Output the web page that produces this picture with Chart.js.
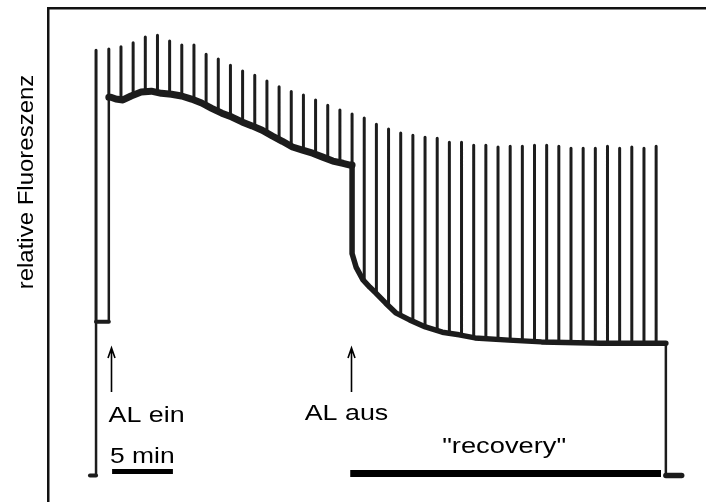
<!DOCTYPE html>
<html lang="de">
<head>
<meta charset="utf-8">
<title>relative Fluoreszenz</title>
<script src="https://cdn.jsdelivr.net/npm/chart.js@4.4.1/dist/chart.umd.min.js"></script>
<style>
  html, body { margin: 0; padding: 0; background: #fff; }
  #wrap { position: relative; width: 706px; height: 502px; }
</style>
</head>
<body>
<div id="wrap"><canvas id="trace"></canvas></div>
<script>
// Zeit in Minuten (0 = AL ein), Fluoreszenz in relativen Einheiten

// kontinuierliches Signal (F0, Fs, Abklingen nach AL aus)
const traceTime = [-1.55, -1.05, -1.05, 0, 0, 0.17, 0.58, 1.16, 1.83, 2.66, 3.49, 4.32, 5.15, 5.98,
  6.80, 7.63, 8.46, 9.29, 10.12, 10.95, 11.78, 12.61, 13.44, 14.27, 15.10, 15.93, 16.76, 17.59,
  18.42, 19.25, 19.83, 20.0, 20.0, 20.33, 20.9, 21.47, 21.96, 22.77, 23.59, 24.73, 26.03, 27.42,
  28.8, 30.11, 32.88, 35.57, 40.46, 45.8, 45.8, 47.1];
const traceValue = [0, 0, 35, 35, 86.0, 86.0, 85.6, 85.4, 86.3, 87.2, 87.4, 86.9, 86.7, 86.3,
  85.6, 84.7, 83.5, 82.4, 81.5, 80.4, 79.5, 78.5, 77.2, 76.0, 74.7, 74.0, 73.3, 72.4,
  71.5, 71.0, 70.6, 70.6, 50.5, 47.4, 44.5, 42.8, 41.5, 39.2, 37.0, 35.4, 33.8, 32.6,
  32.0, 31.3, 30.8, 30.4, 30.1, 30.1, 0, 0];

// Sättigungspulse: Zeitpunkt, Ausgangsniveau, Spitzenwert
const pulseTime = [-1.05, 0, 1, 2, 3, 4, 5, 6, 7, 8, 9, 10, 11, 12, 13, 14, 15, 16, 17, 18, 19, 20,
  21, 22, 23, 24, 25, 26, 27, 28, 29, 30, 31, 32, 33, 34, 35, 36, 37, 38, 39, 40, 41, 42, 43, 44, 45];
const pulseBase = [35, 86.0, 85.4, 86.5, 87.2, 87.2, 86.7, 86.3, 85.6, 84.4, 82.8, 81.7, 80.4, 79.2,
  77.8, 76.3, 74.9, 74.0, 73.1, 71.9, 71.2, 70.6,
  44.2, 41.5, 39.0, 36.5, 35.1, 34.0, 33.1, 32.4, 31.9, 31.5, 31.0, 30.8, 30.8, 30.6, 30.3, 30.2,
  30.1, 30.1, 30.1, 30.1, 30.1, 30.1, 30.1, 30.1, 30.1];
const pulsePeak = [96.7, 97.0, 97.5, 98.4, 99.7, 100.1, 98.8, 97.9, 97.9, 95.8, 94.7, 93.3, 92.0, 91.0,
  89.7, 88.4, 87.3, 86.5, 85.4, 84.2, 83.1, 82.2,
  81.3, 79.9, 78.8, 77.9, 77.4, 76.9, 76.7, 75.8, 75.8, 75.1, 75.1, 74.7, 74.9, 74.9, 75.1, 75.1,
  74.9, 74.4, 74.4, 74.4, 74.9, 74.4, 74.7, 74.4, 74.9];

// Markierungen
const markerTime = [0.2, 19.9];
const markerLabel = ['AL ein', 'AL aus'];
const recoveryRange = [19.85, 45.4];
const scaleBarStart = 0.27;
const scaleBarMinutes = 5;

const ink = '#1c1c1c';
const font = '"Liberation Sans", Arial, Helvetica, sans-serif';

const traceData = traceTime.map((t, i) => ({ x: t, y: traceValue[i] }));
const pulseData = [];
pulseTime.forEach((t, i) => {
  pulseData.push({ x: t, y: pulseBase[i] }, { x: t, y: pulsePeak[i] }, { x: t, y: null });
});

// Linienstärke je Abschnitt: dünne Sprünge, breites Fs-Band
function segmentWidth(ctx) {
  const a = ctx.p0.parsed, b = ctx.p1.parsed;
  if (Math.abs(b.y - a.y) > 25) return 2.5;
  if (b.x <= 0) return 4;
  if (a.x < 20) return 7;
  return 5.5;
}

function wideText(ctx, text, px, py, align, sx) {
  ctx.save();
  ctx.translate(px, py);
  ctx.scale(sx, 1);
  ctx.textAlign = align;
  ctx.fillText(text, 0, 0);
  ctx.restore();
}

const labels = {
  id: 'labels',
  afterDatasetsDraw(chart) {
    const { ctx, scales: { x, y } } = chart;
    ctx.save();
    ctx.fillStyle = '#000';
    ctx.strokeStyle = '#000';
    ctx.textBaseline = 'alphabetic';
    ctx.font = '22px ' + font;

    // Achsenbeschriftung
    ctx.save();
    ctx.translate(33, 182);
    ctx.rotate(-Math.PI / 2);
    ctx.scale(1.09, 1);
    ctx.textAlign = 'center';
    ctx.fillText('relative Fluoreszenz', 0, 0);
    ctx.restore();

    // Pfeile AL ein / AL aus
    const top = y.getPixelForValue(29), bottom = y.getPixelForValue(19);
    markerTime.forEach((t, i) => {
      const px = Math.round(x.getPixelForValue(t)) + 0.5;
      ctx.lineWidth = 1.6;
      ctx.beginPath();
      ctx.moveTo(px, bottom);
      ctx.lineTo(px, top);
      ctx.moveTo(px - 3.5, top + 10);
      ctx.lineTo(px, top);
      ctx.lineTo(px + 3.5, top + 10);
      ctx.stroke();
      if (i === 0) wideText(ctx, markerLabel[i], px - 3, 422, 'left', 1.22);
      else wideText(ctx, markerLabel[i], px - 5, 420, 'center', 1.22);
    });

    // Zeitmaßstab
    const s0 = x.getPixelForValue(scaleBarStart);
    const s1 = x.getPixelForValue(scaleBarStart + scaleBarMinutes);
    ctx.fillRect(s0, 469, s1 - s0, 5);
    wideText(ctx, scaleBarMinutes + ' min', s0 - 2, 462.5, 'left', 1.2);

    // Erholungsphase
    const r0 = x.getPixelForValue(recoveryRange[0]);
    const r1 = x.getPixelForValue(recoveryRange[1]);
    ctx.fillRect(r0, 470, r1 - r0, 7);
    wideText(ctx, '"recovery"', (r0 + r1) / 2 - 1.5, 453, 'center', 1.24);

    ctx.restore();
  }
};

new Chart(document.getElementById('trace'), {
  type: 'line',
  data: {
    datasets: [
      {
        label: 'Signal',
        data: traceData,
        borderColor: ink,
        borderJoinStyle: 'round',
        borderCapStyle: 'round',
        segment: { borderWidth: segmentWidth },
        pointRadius: 0,
        tension: 0
      },
      {
        label: 'Pulse',
        data: pulseData,
        borderColor: ink,
        borderWidth: 3,
        borderCapStyle: 'round',
        pointRadius: 0,
        spanGaps: false,
        tension: 0
      }
    ]
  },
  options: {
    responsive: true,
    maintainAspectRatio: false,
    animation: false,
    layout: { padding: { left: 48, top: 8, right: 0, bottom: 0 } },
    plugins: { legend: { display: false }, tooltip: { enabled: false } },
    scales: {
      x: {
        type: 'linear',
        position: 'top',
        min: -5,
        max: 49.1,
        grid: { display: false, drawTicks: false },
        ticks: { display: false },
        border: { display: true, color: '#111', width: 2.5 }
      },
      y: {
        type: 'linear',
        position: 'left',
        min: -6,
        max: 106.3,
        grid: { display: false, drawTicks: false },
        ticks: { display: false },
        border: { display: true, color: '#111', width: 2.5 }
      }
    }
  },
  plugins: [labels]
});
</script>
</body>
</html>
